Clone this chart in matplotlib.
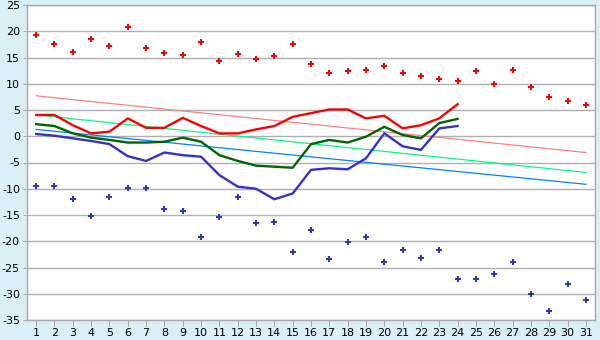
import matplotlib
matplotlib.use("Agg")
import matplotlib.pyplot as plt
import numpy as np

days = list(range(1, 32))
line_days = list(range(1, 25))

max_pts = [19.2, 17.5, 16.1, 18.5, 17.1, 20.9, 16.9, 15.9, 15.4, 17.9,
           14.3, 15.6, 14.7, 15.2, 17.5, 13.7, 12.0, 12.4, 12.6, 13.3,
           12.0, 11.4, 11.0, 10.6, 12.4, 9.9, 12.7, 9.3, 7.4, 6.7, 5.9]
min_pts = [-9.4, -9.5, -12.0, -15.1, -11.6, -9.9, -9.9, -13.9, -14.3, -19.2,
           -15.4, -11.6, -16.6, -16.4, -22.1, -17.9, -23.4, -20.2, -19.1, -24.0,
           -21.7, -23.1, -21.7, -27.1, -27.1, -26.3, -24.0, -30.1, -33.2, -28.2, -31.1]

red_line = [4.05, 4.05, 2.1, 0.55, 0.87, 3.4, 1.6, 1.6, 3.5, 1.95,
            0.55, 0.55, 1.3, 1.95, 3.7, 4.4, 5.1, 5.1, 3.4, 3.9,
            1.5, 2.1, 3.4, 6.1]
green_line = [2.3, 1.95, 0.55, -0.27, -0.7, -1.2, -1.2, -1.04, -0.27, -1.04,
              -3.6, -4.7, -5.6, -5.8, -6.0, -1.5, -0.7, -1.2, -0.08, 1.8,
              0.24, -0.4, 2.5, 3.3]
blue_line = [0.43, 0.1, -0.4, -0.9, -1.5, -3.8, -4.7, -3.1, -3.6, -3.9,
             -7.4, -9.6, -10.0, -12.0, -10.9, -6.4, -6.1, -6.3, -4.2, 0.55,
             -1.9, -2.6, 1.5, 1.95]

trend_x = [1, 31]
trend_pink = [7.7, -3.1]
trend_green = [4.05, -6.9]
trend_blue = [1.3, -9.15]

y_ticks = [25, 20, 15, 10, 5, 0, -5, -10, -15, -20, -25, -30, -35]

bg = "#daf0f6"
fig = plt.figure(figsize=(6, 3.4), dpi=100, facecolor=bg)
ax = fig.add_axes([27/600, 1-320/340, 568/600, 315/340])
ax.set_facecolor("white")

ax.plot(trend_x, trend_pink, color="#ff8080", lw=0.9, zorder=2)
ax.plot(trend_x, trend_green, color="#00ff80", lw=0.9, zorder=2)
ax.plot(trend_x, trend_blue, color="#0080ff", lw=0.9, zorder=2)

ax.plot(line_days, red_line, color="#ff0000", lw=1.7, zorder=3)
ax.plot(line_days, green_line, color="#006600", lw=1.7, zorder=3)
ax.plot(line_days, blue_line, color="#3333cc", lw=1.7, zorder=3)

ax.scatter(days, max_pts, marker="P", s=22, color="#ff0000", linewidths=0, zorder=4)
ax.scatter(days, min_pts, marker="P", s=22, color="#3333cc", linewidths=0, zorder=4)

ax.set_xlim(0.5, 31.5)
ax.set_ylim(-35, 25)
ax.set_xticks(days)
ax.set_yticks(y_ticks)
ax.set_yticklabels([str(v) for v in y_ticks])
ax.yaxis.grid(True, color="#b0b0b0", lw=1)
ax.set_axisbelow(True)
for s in ax.spines.values():
    s.set_color("#a8a8a8")
    s.set_linewidth(1)
ax.tick_params(axis="x", direction="out", length=4, color="#a8a8a8", labelsize=8, pad=2)
ax.tick_params(axis="y", direction="out", length=3, color="#a8a8a8", labelsize=8, pad=2)

fig.savefig("out.png", dpi=100, facecolor=bg)
